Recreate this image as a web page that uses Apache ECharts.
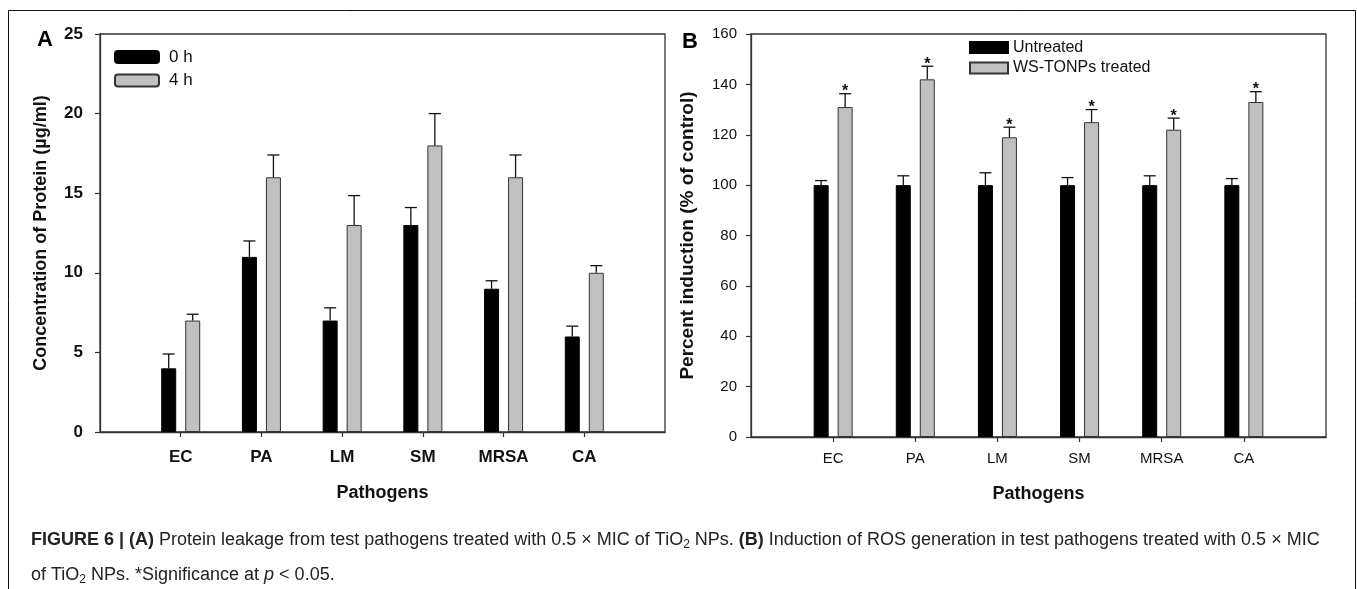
<!DOCTYPE html>
<html>
<head>
<meta charset="utf-8">
<title>Figure 6</title>
<script src="https://cdn.jsdelivr.net/npm/echarts@6/dist/echarts.min.js"></script>
<style>
    html, body { margin: 0; padding: 0; background: #fff; }
    #chart { width: 1357px; height: 589px; }
</style>
</head>
<body>
<div id="chart"></div>
<script>
// categories
var pathogens = ['EC', 'PA', 'LM', 'SM', 'MRSA', 'CA'];

// panel A - protein leakage (ug/ml)
var protein0h = [4, 11, 7, 13, 9, 6];
var protein0hErr = [0.9, 1.0, 0.8, 1.1, 0.5, 0.65];
var protein4h = [7, 16, 13, 18, 16, 10];
var protein4hErr = [0.4, 1.4, 1.85, 2.0, 1.4, 0.45];
var proteinTicks = [0, 5, 10, 15, 20, 25];

// panel B - ROS induction (% of control)
var rosUntreated = [100, 100, 100, 100, 100, 100];
var rosUntreatedErr = [1.8, 3.7, 4.9, 3.0, 3.7, 2.6];
var rosTreated = [131, 142, 119, 125, 122, 133];
var rosTreatedErr = [5.3, 5.2, 4.0, 5.0, 4.6, 4.1];
var rosMarks = ['*', '*', '*', '*', '*', '*'];
var rosTicks = [0, 20, 40, 60, 80, 100, 120, 140, 160];

var FONT = 'Arial, "Liberation Sans", sans-serif';
var AXIS_COLOR = '#333';

/**
 * 两端各补一个空位, 让类目刻度落在 1..6
 */
function pad(arr) {
    return [null].concat(arr, [null]);
}

var axisCats = [''].concat(pathogens, ['']);

/**
 * 误差线 (只画上半部分) + 显著性标记
 */
function errorSeries(values, errs, idx, offset, marks) {
    var data = values.map(function (v, i) {
        return [i + 1, v, v + errs[i], marks ? 1 : 0];
    });
    return {
        type: 'custom',
        xAxisIndex: idx,
        yAxisIndex: idx,
        silent: true,
        z: 5,
        encode: {x: 0, y: 1},
        data: data,
        renderItem: function (params, api) {
            var base = api.coord([api.value(0), api.value(1)]);
            var top = api.coord([api.value(0), api.value(2)]);
            var x = base[0] + offset;
            var children = [
                {type: 'line', shape: {x1: x, y1: base[1], x2: x, y2: top[1]}, style: {stroke: '#111', lineWidth: 1.3}},
                {type: 'line', shape: {x1: x - 6, y1: top[1], x2: x + 6, y2: top[1]}, style: {stroke: '#111', lineWidth: 1.3}}
            ];
            if (api.value(3)) {
                children.push({
                    type: 'text', x: x, y: top[1] - 2,
                    style: {text: marks[params.dataIndex], font: 'bold 16px ' + FONT, fill: '#111', align: 'center', verticalAlign: 'middle'}
                });
            }
            return {type: 'group', children: children};
        }
    };
}

function ticksOf(t) {
    return {min: t[0], max: t[t.length - 1], interval: t[1] - t[0]};
}

function xAxisOf(idx, labelWeight, labelSize, labelMargin, nameGap) {
    return {
        type: 'category',
        gridIndex: idx,
        data: axisCats,
        boundaryGap: false,
        axisLine: {lineStyle: {color: AXIS_COLOR, width: 1.3}},
        axisTick: {
            length: 5,
            lineStyle: {color: AXIS_COLOR, width: 1.2},
            interval: function (i) {
                return i > 0 && i < axisCats.length - 1;
            }
        },
        axisLabel: {interval: 0, margin: labelMargin, color: '#111', fontFamily: FONT, fontWeight: labelWeight, fontSize: labelSize},
        splitLine: {show: false},
        name: 'Pathogens',
        nameLocation: 'middle',
        nameGap: nameGap,
        nameTextStyle: {color: '#111', fontFamily: FONT, fontWeight: 'bold', fontSize: 18}
    };
}

function yAxisOf(idx, ticks, labelWeight, labelSize, labelMargin, name, nameSize, nameGap) {
    var t = ticksOf(ticks);
    return {
        type: 'value',
        gridIndex: idx,
        min: t.min,
        max: t.max,
        interval: t.interval,
        axisLine: {show: true, lineStyle: {color: AXIS_COLOR, width: 1.3}},
        axisTick: {show: true, length: 5, lineStyle: {color: AXIS_COLOR, width: 1.2}},
        axisLabel: {margin: labelMargin, color: '#111', fontFamily: FONT, fontWeight: labelWeight, fontSize: labelSize},
        splitLine: {show: false},
        name: name,
        nameLocation: 'middle',
        nameGap: nameGap,
        nameTextStyle: {color: '#111', fontFamily: FONT, fontWeight: 'bold', fontSize: nameSize}
    };
}

var blackStyle = {color: '#000', borderColor: '#000', borderWidth: 1};
var grayStyle = {color: '#c0c0c0', borderColor: '#333', borderWidth: 1};

var myChart = echarts.init(document.getElementById('chart'), null, {renderer: 'canvas'});
var option = {
    animation: false,
    backgroundColor: '#fff',
    grid: [
        {left: 100, top: 34, width: 565, height: 398, show: true, borderColor: AXIS_COLOR, borderWidth: 1.3, backgroundColor: 'transparent', outerBoundsMode: 'none'},
        {left: 751, top: 34, width: 575, height: 403, show: true, borderColor: AXIS_COLOR, borderWidth: 1.3, backgroundColor: 'transparent', outerBoundsMode: 'none'}
    ],
    xAxis: [
        xAxisOf(0, 'bold', 17, 17, 52),
        xAxisOf(1, 'normal', 15, 14, 48)
    ],
    yAxis: [
        yAxisOf(0, proteinTicks, 'bold', 17, 17, 'Concentration of Protein (\u00b5g/ml)', 18, 50),
        yAxisOf(1, rosTicks, 'normal', 15, 14, 'Percent induction (% of control)', 19, 54)
    ],
    legend: [
        {
            data: ['0 h', '4 h'],
            orient: 'vertical',
            left: 114,
            top: 48,
            padding: 0,
            itemWidth: 44,
            itemHeight: 12,
            itemGap: 5.5,
            icon: 'roundRect',
            selectedMode: false,
            textStyle: {color: '#111', fontFamily: FONT, fontSize: 17, lineHeight: 18, padding: [0, 0, 0, 5]}
        },
        {
            data: ['Untreated', 'WS-TONPs treated'],
            orient: 'vertical',
            left: 969,
            top: 38.5,
            padding: 0,
            itemWidth: 38,
            itemHeight: 11,
            itemGap: 2.5,
            icon: 'rect',
            selectedMode: false,
            textStyle: {color: '#111', fontFamily: FONT, fontSize: 16, lineHeight: 18}
        }
    ],
    series: [
        {name: '0 h', type: 'bar', xAxisIndex: 0, yAxisIndex: 0, data: pad(protein0h), barWidth: 15, barGap: '60%', itemStyle: blackStyle},
        {name: '4 h', type: 'bar', xAxisIndex: 0, yAxisIndex: 0, data: pad(protein4h), barWidth: 15, barGap: '60%', itemStyle: grayStyle},
        {name: 'Untreated', type: 'bar', xAxisIndex: 1, yAxisIndex: 1, data: pad(rosUntreated), barWidth: 15, barGap: '60%', itemStyle: blackStyle},
        {name: 'WS-TONPs treated', type: 'bar', xAxisIndex: 1, yAxisIndex: 1, data: pad(rosTreated), barWidth: 15, barGap: '60%', itemStyle: grayStyle},
        errorSeries(protein0h, protein0hErr, 0, -12, null),
        errorSeries(protein4h, protein4hErr, 0, 12, null),
        errorSeries(rosUntreated, rosUntreatedErr, 1, -12, null),
        errorSeries(rosTreated, rosTreatedErr, 1, 12, rosMarks)
    ],
    graphic: [
        {type: 'rect', silent: true, shape: {x: 8.5, y: 10.5, width: 1347, height: 620}, style: {fill: 'none', stroke: '#111', lineWidth: 1}},
        {type: 'text', x: 45, y: 40, style: {text: 'A', font: 'bold 22px ' + FONT, fill: '#000', align: 'center', verticalAlign: 'middle'}},
        {type: 'text', x: 690, y: 42, style: {text: 'B', font: 'bold 22px ' + FONT, fill: '#000', align: 'center', verticalAlign: 'middle'}},
        {
            type: 'text', x: 31, y: 540,
            style: {
                text: '{b|FIGURE 6 | (A)} Protein leakage from test pathogens treated with 0.5 \u00d7 MIC of TiO{s|2} NPs. {b|(B)} Induction of ROS generation in test pathogens treated with 0.5 \u00d7 MIC',
                font: '18px ' + FONT, fill: '#222', lineHeight: 22, verticalAlign: 'middle',
                rich: {
                    b: {fontWeight: 'bold', fontSize: 18, fontFamily: FONT, fill: '#222'},
                    s: {fontSize: 12, fontFamily: FONT, verticalAlign: 'bottom', fill: '#222'}
                }
            }
        },
        {
            type: 'text', x: 31, y: 575,
            style: {
                text: 'of TiO{s|2} NPs. *Significance at {i|p} < 0.05.',
                font: '18px ' + FONT, fill: '#222', lineHeight: 22, verticalAlign: 'middle',
                rich: {
                    s: {fontSize: 12, fontFamily: FONT, verticalAlign: 'bottom', fill: '#222'},
                    i: {fontStyle: 'italic', fontSize: 18, fontFamily: FONT, fill: '#222'}
                }
            }
        }
    ]
};
myChart.setOption(option, true);
</script>
</body>
</html>
